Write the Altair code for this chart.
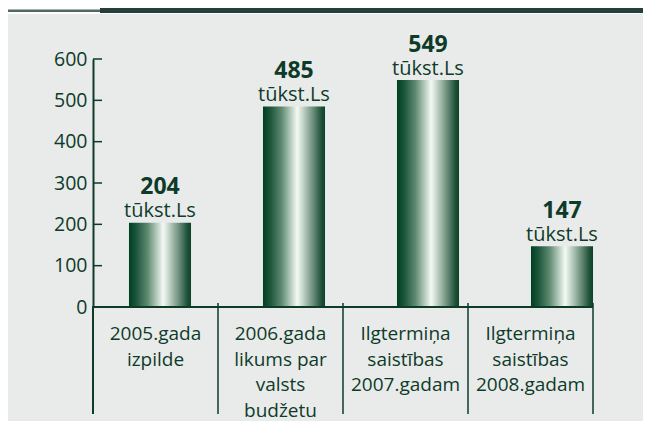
import altair as alt
import pandas as pd

# ---- data ----
categories = [
    "2005.gada\nizpilde",
    "2006.gada\nlikums par\nvalsts\nbudžetu",
    "Ilgtermiņa\nsaistības\n2007.gadam",
    "Ilgtermiņa\nsaistības\n2008.gadam",
]
values = [204, 485, 549, 147]
unit_label = "tūkst.Ls"
y_ticks = [0, 100, 200, 300, 400, 500, 600]

# ---- styling ----
TXT = "#0e3b29"
FONT = "Open Sans"
BG = "#e9ebea"

df = pd.DataFrame({"cat": categories, "v": values, "unit": [unit_label] * len(values)})
ticks_df = pd.DataFrame({"t": y_ticks})
one = pd.DataFrame({"a": [0]})

grad = alt.LinearGradient(
    gradient="linear",
    x1=0, x2=1, y1=0, y2=0,
    stops=[
        alt.GradientStop(color="#003f22", offset=0.0),
        alt.GradientStop(color="#1d573b", offset=0.12),
        alt.GradientStop(color="#5f8a72", offset=0.3),
        alt.GradientStop(color="#b7cdbf", offset=0.45),
        alt.GradientStop(color="#f4f9f4", offset=0.55),
        alt.GradientStop(color="#cadbcf", offset=0.63),
        alt.GradientStop(color="#6f917d", offset=0.8),
        alt.GradientStop(color="#1f5239", offset=0.94),
        alt.GradientStop(color="#0a4328", offset=1.0),
    ],
)

yscale = alt.Scale(domain=[0, 600], nice=False)
yaxis = alt.Axis(
    values=y_ticks, title=None, grid=False, ticks=False, tickSize=0,
    domain=True, domainColor=TXT, domainWidth=2, zindex=2,
    labelPadding=6, labelFont=FONT, labelFontSize=19.5, labelColor=TXT,
)

# background panel and top strip (decoration)
bg = alt.Chart(one).mark_rect(color=BG).encode(
    x=alt.value(-85), x2=alt.value(550), y=alt.value(-45), y2=alt.value(362)
)
strip_dark = alt.Chart(one).mark_rect(color="#253f3c").encode(
    x=alt.value(7), x2=alt.value(550), y=alt.value(-51), y2=alt.value(-46)
)
strip_left = alt.Chart(one).mark_rect(color="#52695f").encode(
    x=alt.value(-85), x2=alt.value(7), y=alt.value(-49.5), y2=alt.value(-47)
)

# bars + value labels (shared band scale)
bars = alt.Chart(df).mark_bar(color=grad).encode(
    x=alt.X("cat:N", sort=None, axis=None,
            scale=alt.Scale(type="band", paddingInner=0.537, paddingOuter=0.2685)),
    y=alt.Y("v:Q", scale=yscale, axis=yaxis),
)
num = alt.Chart(df).mark_text(
    font=FONT, fontSize=23, fontWeight="bold", color=TXT, baseline="alphabetic", dy=-28.5
).encode(
    x=alt.X("cat:N", sort=None, bandPosition=0.5, axis=None),
    y=alt.Y("v:Q", scale=yscale),
    text=alt.Text("v:Q"),
)
unit = alt.Chart(df).mark_text(
    font=FONT, fontSize=20, color=TXT, baseline="alphabetic", dy=-5.5
).encode(
    x=alt.X("cat:N", sort=None, bandPosition=0.5, axis=None),
    y=alt.Y("v:Q", scale=yscale),
    text="unit:N",
)
bar_group = alt.layer(bars, num, unit)

# inward y ticks
yt = alt.Chart(ticks_df).mark_rule(color=TXT, strokeWidth=1.5).encode(
    x=alt.value(0), x2=alt.value(9), y=alt.Y("t:Q", scale=yscale)
)
# axis extension below zero and x axis line
yext = alt.Chart(one).mark_rule(color=TXT, strokeWidth=2).encode(
    x=alt.value(0), y=alt.value(247), y2=alt.value(355)
)
xline = alt.Chart(one).mark_rule(color=TXT, strokeWidth=2).encode(
    x=alt.value(0), x2=alt.value(500), y=alt.value(248)
)

# category boxes: dividers + labels
lab_scale = alt.Scale(type="band", range=[0, 500], paddingInner=0, paddingOuter=0)
div = alt.Chart(df).mark_rule(color=TXT, strokeWidth=1.5).encode(
    x=alt.X("cat:N", sort=None, bandPosition=1, axis=None, scale=lab_scale),
    y=alt.value(244), y2=alt.value(355),
)
labs = alt.Chart(df).mark_text(
    font=FONT, fontSize=19, color=TXT, baseline="alphabetic",
    lineBreak="\n", lineHeight=25.5, align="center",
).encode(
    x=alt.X("cat:N", sort=None, bandPosition=0.5, axis=None),
    y=alt.value(281),
    text="cat:N",
)
lab_group = alt.layer(div, labs)

chart = alt.layer(
    bg, strip_left, strip_dark, bar_group, yt, yext, xline, lab_group
).resolve_scale(x="independent").properties(
    width=536, height=248,
    padding={"left": 85, "top": 51, "right": 14, "bottom": 114},
    autosize=alt.AutoSizeParams(type="none"),
    background="white",
).configure_view(stroke=None)

chart.save("out.html", embed_options={"renderer": "svg", "actions": False})
